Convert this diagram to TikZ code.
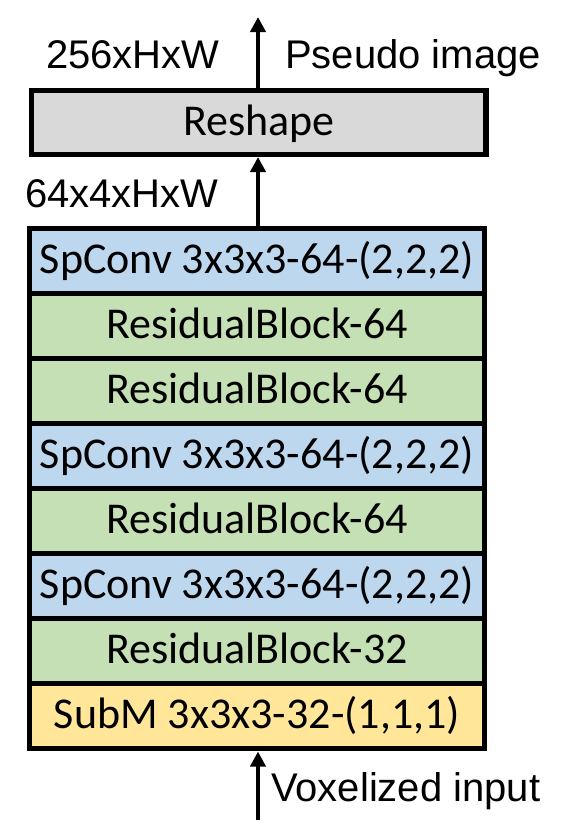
\documentclass[tikz,border=0pt]{standalone}
\usepackage{fontspec}
\setmainfont{Carlito}
\newfontfamily\arialfont{Liberation Sans}
\usetikzlibrary{arrows.meta}
\definecolor{cblue}{HTML}{BDD7EE}
\definecolor{cgreen}{HTML}{C5E0B4}
\definecolor{cyellow}{HTML}{FFE699}
\definecolor{cgray}{HTML}{D9D9D9}
\tikzset{
  layer/.style={draw=black, line width=5pt, minimum width=455pt, minimum height=65.1pt,
    inner sep=0pt, outer sep=0pt, text height=29pt, text depth=4pt,
    font=\fontsize{44}{50}\selectfont},
  spconv/.style={layer, fill=cblue},
  resblock/.style={layer, fill=cgreen},
  subm/.style={layer, fill=cyellow},
  reshapebox/.style={draw=black, line width=5.5pt, fill=cgray, minimum width=454.5pt,
    minimum height=64pt, inner sep=0pt, text height=29pt, text depth=4pt,
    font=\fontsize{44}{50}\selectfont},
  lbl/.style={inner sep=0pt, font=\arialfont\fontsize{40}{46}\selectfont},
  flow/.style={line width=4pt, -{Triangle[width=15pt,length=15pt]}}
}
\begin{document}
\begin{tikzpicture}[x=1pt,y=-1pt]
\useasboundingbox (0,0) rectangle (581,835);
% stack
\node[spconv]   (r1) at (257,260.55) {SpConv 3x3x3-64-(2,2,2)};
\node[resblock] (r2) at (257,325.65) {ResidualBlock-64};
\node[resblock] (r3) at (257,390.75) {ResidualBlock-64};
\node[spconv]   (r4) at (257,455.85) {SpConv 3x3x3-64-(2,2,2)};
\node[resblock] (r5) at (257,520.95) {ResidualBlock-64};
\node[spconv]   (r6) at (257,586.05) {SpConv 3x3x3-64-(2,2,2)};
\node[resblock] (r7) at (257,651.15) {ResidualBlock-32};
\node[subm]     (r8) at (257,716.25) {SubM 3x3x3-32-(1,1,1)};
% reshape
\node[reshapebox] (reshape) at (258.75,122.5) {Reshape};
% labels
\node[lbl, anchor=base west] (l256) at (46,68) {256xHxW};
\node[lbl, anchor=base west] (lpseudo) at (285,68) {Pseudo image};
\node[lbl, anchor=base west] (l64) at (25,207) {64x4xHxW};
\node[lbl, anchor=base west] (lvox) at (271,801) {Voxelized input};
% connectors
\coordinate (topend) at (258,17);
\coordinate (instart) at (258,820);
\coordinate (stacktop) at (258,226);
\coordinate (stackbot) at (258,751.5);
\coordinate (reshtop) at (258,90.5);
\coordinate (reshbot) at (258,157);
\draw[flow] (reshtop) -- (topend);
\draw[flow] (stacktop) -- (reshbot);
\draw[flow] (instart) -- (stackbot);
\end{tikzpicture}
\end{document}
